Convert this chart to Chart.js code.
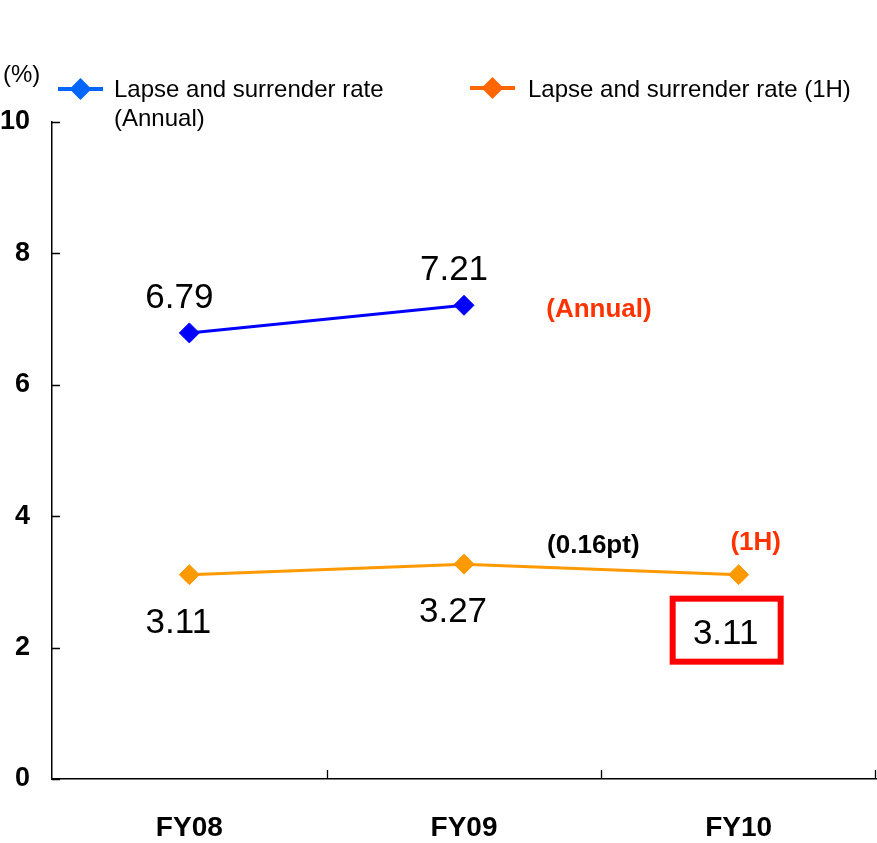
<!DOCTYPE html>
<html>
<head>
<meta charset="utf-8">
<script src="https://cdn.jsdelivr.net/npm/chart.js@4"></script>
<style>
  body { margin: 0; background: #fff; }
  #wrap { width: 877px; height: 843px; }
</style>
</head>
<body>
<div id="wrap"><canvas id="graficoLapse" width="877" height="843"></canvas></div>
<script>
// Datos del gráfico
const categorias = ['FY08', 'FY09', 'FY10'];
const tasaAnual = [6.79, 7.21, null];
const tasa1H = [3.11, 3.27, 3.11];
const etiquetasY = [0, 2, 4, 6, 8, 10];
const nombresSeries = ['Lapse and surrender rate', 'Lapse and surrender rate (1H)'];

const fuente = '"Liberation Sans", Arial, sans-serif';

// Leyenda, unidad y notas dibujadas a mano
const extras = {
  id: 'extras',
  afterDraw(chart) {
    const ctx = chart.ctx;
    const x = chart.scales.x;
    const y = chart.scales.y;
    ctx.save();

    // marcas de los ejes hacia dentro
    ctx.strokeStyle = '#000';
    ctx.lineWidth = 1.3;
    ctx.beginPath();
    etiquetasY.forEach(v => {
      const py = Math.round(y.getPixelForValue(v)) + 0.5;
      ctx.moveTo(x.left, py);
      ctx.lineTo(x.left + 8, py);
    });
    for (let i = 0; i < categorias.length; i++) {
      const px = i < categorias.length - 1
        ? (x.getPixelForValue(i) + x.getPixelForValue(i + 1)) / 2
        : x.right - 1;
      ctx.moveTo(Math.round(px) + 0.5, y.bottom);
      ctx.lineTo(Math.round(px) + 0.5, y.bottom - 9);
    }
    ctx.stroke();

    // unidad
    ctx.fillStyle = '#000';
    ctx.font = '24px ' + fuente;
    ctx.textAlign = 'left';
    ctx.textBaseline = 'alphabetic';
    ctx.fillText('(%)', 3, 82);

    // leyenda
    const item = (x0, x1, yy, color) => {
      ctx.strokeStyle = color;
      ctx.lineWidth = 4;
      ctx.beginPath();
      ctx.moveTo(x0, yy);
      ctx.lineTo(x1, yy);
      ctx.stroke();
      const cx = (x0 + x1) / 2, r = 11;
      ctx.fillStyle = color;
      ctx.beginPath();
      ctx.moveTo(cx - r, yy);
      ctx.lineTo(cx, yy - r);
      ctx.lineTo(cx + r, yy);
      ctx.lineTo(cx, yy + r);
      ctx.closePath();
      ctx.fill();
    };
    item(58, 103, 89, '#0066FF');
    item(470, 515, 88, '#FF6600');
    ctx.fillStyle = '#000';
    ctx.font = '24px ' + fuente;
    ctx.fillText(nombresSeries[0], 114, 97);
    ctx.fillText('(Annual)', 114, 126);
    ctx.fillText(nombresSeries[1], 528, 97);

    // valores junto a cada punto
    ctx.font = '35px ' + fuente;
    ctx.textAlign = 'center';
    const mA = chart.getDatasetMeta(0).data;
    const mH = chart.getDatasetMeta(1).data;
    tasaAnual.forEach((v, i) => {
      if (v === null) return;
      const p = mA[i];
      ctx.fillText(v.toFixed(2), p.x - 10, p.y - 25);
    });
    tasa1H.forEach((v, i) => {
      const p = mH[i];
      if (i === tasa1H.length - 1) {
        ctx.strokeStyle = '#FF0000';
        ctx.lineWidth = 6;
        ctx.strokeRect(p.x - 66, p.y + 24, 108, 63);
        ctx.fillStyle = '#000';
        ctx.fillText(v.toFixed(2), p.x - 13, p.y + 69);
      } else {
        ctx.fillText(v.toFixed(2), p.x - 11, p.y + 58);
      }
    });

    // notas
    ctx.font = 'bold 26px ' + fuente;
    ctx.fillStyle = '#FF3300';
    ctx.fillText('(Annual)', mA[1].x + 135, mA[1].y + 12);
    const ult = mH[tasa1H.length - 1];
    ctx.fillText('(1H)', ult.x + 17, ult.y - 25);
    ctx.fillStyle = '#000';
    ctx.fillText('(0.16pt)', (mH[1].x + ult.x) / 2 - 8, ult.y - 22);

    ctx.restore();
  }
};

const ctx = document.getElementById('graficoLapse').getContext('2d');
const chart = new Chart(ctx, {
  type: 'line',
  data: {
    labels: categorias,
    datasets: [{
      label: nombresSeries[0],
      data: tasaAnual,
      borderColor: '#0000FF',
      backgroundColor: '#0000FF',
      borderWidth: 3,
      pointStyle: 'rectRot',
      pointRadius: 10,
      pointBorderWidth: 1,
      tension: 0
    }, {
      label: nombresSeries[1],
      data: tasa1H,
      borderColor: '#FF9900',
      backgroundColor: '#FF9900',
      borderWidth: 3,
      pointStyle: 'rectRot',
      pointRadius: 10,
      pointBorderWidth: 1,
      tension: 0
    }]
  },
  options: {
    responsive: false,
    animation: false,
    layout: { autoPadding: false, padding: { top: 122, right: 1, left: 0, bottom: 0 } },
    plugins: {
      legend: { display: false },
      tooltip: { enabled: false }
    },
    scales: {
      x: {
        offset: true,
        grid: { display: false },
        border: { display: true, color: '#000', width: 1.5 },
        ticks: {
          color: '#000',
          padding: 24,
          font: { family: fuente, size: 28, weight: 'bold' }
        },
        afterFit: s => { s.height = 64; s.paddingLeft = 0; s.paddingRight = 0; }
      },
      y: {
        min: 0,
        max: 10,
        grid: { display: false },
        border: { display: true, color: '#000', width: 1.5 },
        afterBuildTicks: s => { s.ticks = etiquetasY.map(v => ({ value: v })); },
        ticks: {
          color: '#000',
          padding: 14,
          font: { family: fuente, size: 27, weight: 'bold' }
        },
        afterFit: s => { s.width = 52; }
      }
    }
  },
  plugins: [extras]
});
</script>
</body>
</html>
